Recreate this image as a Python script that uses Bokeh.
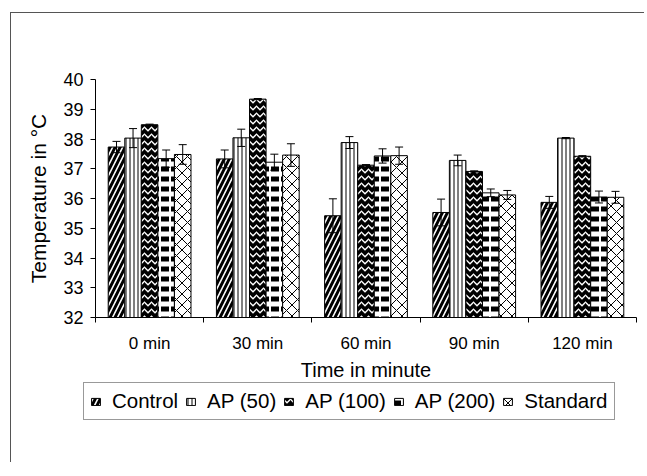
from bokeh.plotting import figure
from bokeh.models import (ColumnDataSource, Whisker, TeeHead, Legend, LegendItem,
                          FixedTicker, CustomJSTickFormatter, Range1d)
from bokeh.embed import file_html
from bokeh.resources import INLINE

categories = ["0 min", "30 min", "60 min", "90 min", "120 min"]
series_names = ["Control", "AP (50)", "AP (100)", "AP (200)", "Standard"]

control = [37.73, 37.33, 35.42, 35.53, 35.87]
control_err = [0.19, 0.30, 0.57, 0.45, 0.20]
ap50 = [38.03, 38.04, 37.88, 37.28, 38.03]
ap50_err = [0.32, 0.29, 0.20, 0.18, 0.02]
ap100 = [38.48, 39.34, 37.12, 36.91, 37.42]
ap100_err = [0.02, 0.02, 0.02, 0.02, 0.02]
ap200 = [37.34, 37.22, 37.43, 36.19, 36.05]
ap200_err = [0.29, 0.27, 0.24, 0.13, 0.20]
standard = [37.48, 37.46, 37.44, 36.12, 36.04]
standard_err = [0.33, 0.38, 0.29, 0.15, 0.20]

y_ticks = [32, 33, 34, 35, 36, 37, 38, 39, 40]

values = [control, ap50, ap100, ap200, standard]
errors = [control_err, ap50_err, ap100_err, ap200_err, standard_err]

styles = [
    dict(fill_color="black", hatch_pattern="right_diagonal_line", hatch_color="white", hatch_scale=10, hatch_weight=1.6),
    dict(fill_color="white", hatch_pattern="vertical_line", hatch_color="black", hatch_scale=4, hatch_weight=1),
    dict(fill_color="black", hatch_pattern="horizontal_wave", hatch_color="white", hatch_scale=7, hatch_weight=1.3),
    dict(fill_color="white", hatch_pattern="horizontal_dash", hatch_color="black", hatch_scale=10, hatch_weight=5),
    dict(fill_color="white", hatch_pattern="diagonal_cross", hatch_color="black", hatch_scale=11, hatch_weight=1),
]

FONT = "Liberation Sans"

p = figure(width=634, height=370, output_backend="svg", toolbar_location=None,
           x_range=Range1d(0, 5), y_range=Range1d(32, 40),
           min_border_left=84, min_border_top=66, min_border_right=9, min_border_bottom=64)
p.outline_line_color = None
p.xgrid.visible = False
p.ygrid.visible = False
p.styles = {"border-top": "1px solid #555", "border-left": "1px solid #555",
            "margin-left": "10px", "margin-top": "12px"}

# legend strip below the chart (its bars sit outside its own ranges, only the legend shows)
pl = figure(width=634, height=80, output_backend="svg", toolbar_location=None,
            x_range=Range1d(0, 1), y_range=Range1d(0, 1),
            x_axis_type=None, y_axis_type=None,
            min_border_left=0, min_border_top=0, min_border_right=0, min_border_bottom=0)
pl.outline_line_color = None
pl.xgrid.visible = False
pl.ygrid.visible = False
pl.styles = {"border-left": "1px solid #555", "margin-left": "10px"}

bw = 0.153
items = []
for k, (name, vals, errs, st) in enumerate(zip(series_names, values, errors, styles)):
    xs = [i + 0.5 + (k - 2) * bw for i in range(len(categories))]
    src = ColumnDataSource(dict(x=xs, top=vals,
                                upper=[v + e for v, e in zip(vals, errs)],
                                lower=[v - e for v, e in zip(vals, errs)]))
    p.vbar(x="x", top="top", bottom=32, width=bw, source=src,
           line_color="black", line_width=1, **st)
    w = Whisker(source=src, base="x", upper="upper", lower="lower",
                line_color="black", line_width=1,
                upper_head=TeeHead(size=8, line_color="black", line_width=1),
                lower_head=TeeHead(size=8, line_color="black", line_width=1),
                level="overlay")
    p.add_layout(w)
    rl = pl.vbar(x="x", top="top", bottom=32, width=bw, source=src,
                 line_color="black", line_width=1, **st)
    items.append(LegendItem(label=name, renderers=[rl]))

# x axis
p.xaxis.ticker = FixedTicker(ticks=[i + 0.5 for i in range(len(categories))],
                             minor_ticks=list(range(len(categories) + 1)))
p.xaxis.formatter = CustomJSTickFormatter(args=dict(labels=categories),
                                          code="return labels[Math.floor(tick)]")
p.xaxis.major_tick_line_color = None
p.xaxis.minor_tick_line_color = "black"
p.xaxis.minor_tick_out = 5
p.xaxis.minor_tick_in = 0
p.xaxis.axis_line_color = "black"
p.xaxis.major_label_text_font = FONT
p.xaxis.major_label_text_font_size = "17px"
p.xaxis.major_label_text_color = "black"
p.xaxis.major_label_standoff = 10
p.xaxis.axis_label = "Time in minute"
p.xaxis.axis_label_text_font = FONT
p.xaxis.axis_label_text_font_size = "20px"
p.xaxis.axis_label_text_font_style = "normal"
p.xaxis.axis_label_text_color = "black"
p.xaxis.axis_label_standoff = 3

# y axis
p.yaxis.ticker = FixedTicker(ticks=y_ticks, minor_ticks=[])
p.yaxis.major_tick_out = 5
p.yaxis.major_tick_in = 0
p.yaxis.major_tick_line_color = "black"
p.yaxis.axis_line_color = "black"
p.yaxis.major_label_text_font = FONT
p.yaxis.major_label_text_font_size = "18px"
p.yaxis.major_label_text_color = "black"
p.yaxis.major_label_standoff = 7
p.yaxis.axis_label = "Temperature in °C"
p.yaxis.axis_label_text_font = FONT
p.yaxis.axis_label_text_font_size = "21px"
p.yaxis.axis_label_text_font_style = "normal"
p.yaxis.axis_label_text_color = "black"
p.yaxis.axis_label_standoff = 10

legend = Legend(items=items, orientation="horizontal", location=(72, 42),
                label_text_font=FONT, label_text_font_size="20.5px",
                label_text_color="black",
                glyph_width=11, glyph_height=9, label_standoff=11, spacing=7,
                padding=6, margin=0,
                border_line_color="#333", border_line_width=1,
                background_fill_color="white", background_fill_alpha=1)
pl.add_layout(legend)

open("out.html", "w").write(file_html([p, pl], INLINE))
